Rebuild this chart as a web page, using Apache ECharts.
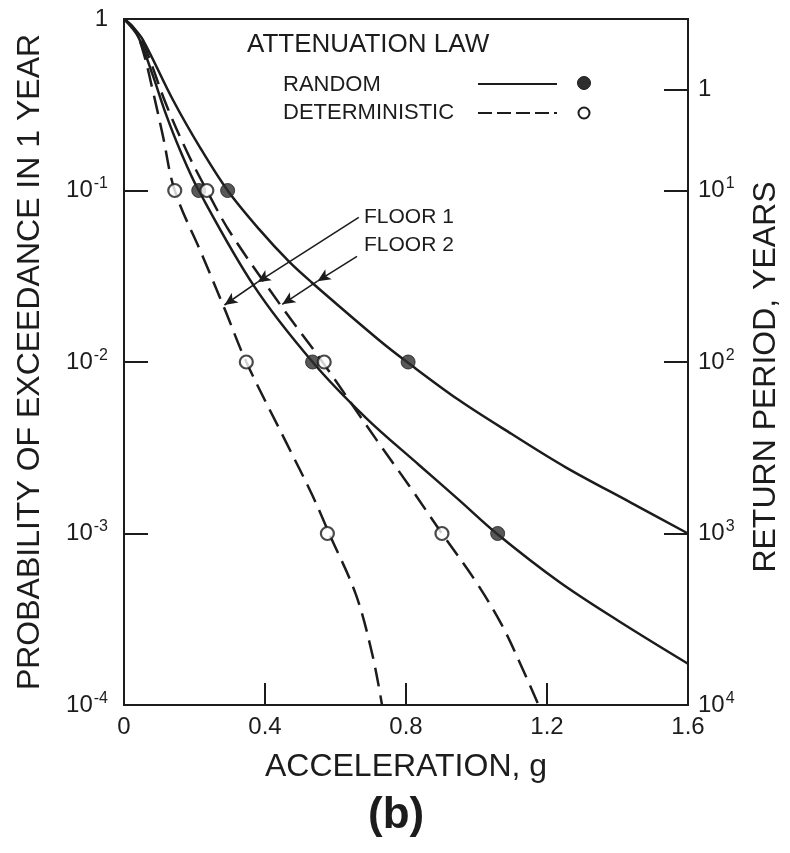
<!DOCTYPE html>
<html>
<head>
<meta charset="utf-8">
<script src="https://cdn.jsdelivr.net/npm/echarts@6.0.0/dist/echarts.min.js"></script>
<style>
  html, body { margin: 0; padding: 0; background: #ffffff; }
  #chart { width: 790px; height: 853px; }
</style>
</head>
<body>
<div id="chart"></div>
<script>
// ---------- DATA ----------
// Floor 1, random attenuation law (solid)
const floor1RandomG = [0, 0.04, 0.08, 0.12, 0.16, 0.212, 0.37, 0.535, 0.687, 0.837, 0.95, 1.057, 1.233, 1.402, 1.6];
const floor1RandomP = [1, 0.79, 0.48, 0.275, 0.17, 0.1, 0.0275, 0.01, 0.00471, 0.00251, 0.00157, 0.001, 0.000525, 0.00031, 0.000174];
// Floor 2, random attenuation law (solid)
const floor2RandomG = [0, 0.025, 0.054, 0.139, 0.215, 0.294, 0.385, 0.469, 0.531, 0.724, 0.803, 0.95, 1.10, 1.252, 1.439, 1.6];
const floor2RandomP = [1, 0.9, 0.754, 0.337, 0.179, 0.1, 0.0589, 0.0383, 0.0293, 0.0134, 0.01, 0.006, 0.0038, 0.00244, 0.00151, 0.001];
// Floor 1, deterministic attenuation law (dashed)
const floor1DetG = [0, 0.03, 0.054, 0.082, 0.11, 0.144, 0.224, 0.285, 0.347, 0.46, 0.535, 0.582, 0.658, 0.705, 0.732];
const floor1DetP = [1, 0.87, 0.65, 0.38, 0.21, 0.1, 0.041, 0.0205, 0.01, 0.0034, 0.00166, 0.001, 0.00044, 0.000195, 0.0001];
// Floor 2, deterministic attenuation law (dashed)
const floor2DetG = [0, 0.03, 0.06, 0.12, 0.18, 0.235, 0.30, 0.441, 0.563, 0.715, 0.809, 0.902, 0.998, 1.071, 1.12, 1.176];
const floor2DetP = [1, 0.87, 0.68, 0.316, 0.166, 0.1, 0.0575, 0.0219, 0.01, 0.00355, 0.0019, 0.001, 0.000525, 0.000295, 0.000182, 0.0001];

// Plotted points
const randomPtsG = [0.212, 0.294, 0.535, 0.806, 1.06];
const randomPtsP = [0.1, 0.1, 0.01, 0.01, 0.001];
const detPtsG = [0.144, 0.235, 0.347, 0.568, 0.577, 0.902];
const detPtsP = [0.1, 0.1, 0.01, 0.01, 0.001, 0.001];

// Annotation arrows (data coordinates: acceleration, probability)
const floor1Arrow = [[0.666, 0.0697], [0.379, 0.0292], [0.285, 0.0215]];
const floor2Arrow = [[0.661, 0.0413], [0.549, 0.0296], [0.449, 0.0217]];

// Tick labels
const xTickLabels = ['0', '0.4', '0.8', '1.2', '1.6'];
const leftTickLabels = ['10^-4', '10^-3', '10^-2', '10^-1', '1'];
const rightTickPositions = [0.41, 1, 2, 3, 4];
const rightTickLabels = ['1', '10^1', '10^2', '10^3', '10^4'];

// ---------- CHART ----------
const FONT = "'Liberation Sans', Arial, 'DejaVu Sans', sans-serif";
const INK = '#1c1c1c';

function zip(g, p) { return g.map((v, i) => [v, p[i]]); }
function richLabel(s) {
  const parts = s.split('^');
  if (parts.length === 1) return '{b|' + parts[0] + '}';
  return '{b|' + parts[0] + '}{s|' + parts[1] + '}';
}
const richStyles = {
  b: { fontSize: 24, fontFamily: FONT, color: INK },
  s: { fontSize: 16, fontFamily: FONT, color: INK, padding: [0, 0, 13, 1] }
};

function arrowSegments(a) {
  return [
    [{ coord: a[0], symbol: 'none' }, { coord: a[1], symbol: 'arrow' }],
    [{ coord: a[1], symbol: 'none' }, { coord: a[2], symbol: 'arrow' }]
  ];
}

const lineBase = {
  type: 'line', smooth: 0.35, showSymbol: false, symbol: 'none',
  silent: true, z: 3
};

const chart = echarts.init(document.getElementById('chart'), null, { renderer: 'canvas' });
chart.setOption({
  animation: false,
  backgroundColor: '#ffffff',
  grid: {
    left: 124, top: 19, width: 567, height: 686, containLabel: false,
    show: true, borderColor: INK, borderWidth: 2, backgroundColor: 'transparent'
  },
  xAxis: {
    type: 'value', min: 0, max: 1.6, interval: 0.4,
    axisLine: { show: true, onZero: false, lineStyle: { color: INK, width: 2 } },
    axisTick: { show: true, inside: true, length: 22, lineStyle: { color: INK, width: 2 } },
    axisLabel: {
      margin: 10, fontSize: 24, fontFamily: FONT, color: INK,
      formatter: (v) => xTickLabels[Math.round(v / 0.4)]
    },
    splitLine: { show: false },
    name: 'ACCELERATION, g', nameLocation: 'middle', nameGap: 46,
    nameTextStyle: { fontSize: 32, fontFamily: FONT, color: INK }
  },
  yAxis: [{
    type: 'log', logBase: 10, min: 0.0001, max: 1,
    axisLine: { show: true, onZero: false, lineStyle: { color: INK, width: 2 } },
    axisTick: { show: true, inside: true, length: 24, lineStyle: { color: INK, width: 2 } },
    minorTick: { show: false },
    axisLabel: {
      margin: 16, color: INK,
      formatter: (v) => richLabel(leftTickLabels[Math.round(Math.log10(v)) + 4]),
      rich: richStyles
    },
    splitLine: { show: false },
    name: 'PROBABILITY OF EXCEEDANCE IN 1 YEAR', nameLocation: 'middle', nameGap: 78, nameRotate: 90,
    nameTextStyle: { fontSize: 32, fontFamily: FONT, color: INK }
  }, {
    type: 'value', min: 0, max: 4, inverse: true, position: 'right',
    axisLine: { show: true, onZero: false, lineStyle: { color: INK, width: 2 } },
    axisTick: { show: true, inside: true, length: 24, customValues: rightTickPositions, lineStyle: { color: INK, width: 2 } },
    axisLabel: {
      margin: 10, color: INK, customValues: rightTickPositions,
      formatter: (v) => {
        let k = 0, best = 1e9;
        rightTickPositions.forEach((p, i) => { if (Math.abs(p - v) < best) { best = Math.abs(p - v); k = i; } });
        return richLabel(rightTickLabels[k]);
      },
      rich: richStyles
    },
    splitLine: { show: false },
    name: 'RETURN PERIOD, YEARS', nameLocation: 'middle', nameGap: 62, nameRotate: 90,
    nameTextStyle: { fontSize: 32, fontFamily: FONT, color: INK, padding: [0, 30, 0, 0] }
  }],
  series: [
    Object.assign({}, lineBase, {
      name: 'Floor 2 random', data: zip(floor2RandomG, floor2RandomP),
      lineStyle: { color: INK, width: 2.5, type: 'solid' },
      markLine: {
        silent: true, symbolSize: [9, 13], label: { show: false },
        lineStyle: { color: INK, width: 1.6, type: 'solid' },
        emphasis: { disabled: true },
        data: arrowSegments(floor1Arrow).concat(arrowSegments(floor2Arrow))
      }
    }),
    Object.assign({}, lineBase, {
      name: 'Floor 1 random', data: zip(floor1RandomG, floor1RandomP),
      lineStyle: { color: INK, width: 2.5, type: 'solid' }
    }),
    Object.assign({}, lineBase, {
      name: 'Floor 1 deterministic', data: zip(floor1DetG, floor1DetP),
      lineStyle: { color: INK, width: 2.5, type: [19, 9] }
    }),
    Object.assign({}, lineBase, {
      name: 'Floor 2 deterministic', data: zip(floor2DetG, floor2DetP),
      lineStyle: { color: INK, width: 2.5, type: [19, 9] }
    }),
    {
      type: 'scatter', name: 'Random', data: zip(randomPtsG, randomPtsP),
      symbol: 'circle', symbolSize: 14, silent: true, z: 5,
      itemStyle: { color: '#2e2e2e', borderColor: INK, borderWidth: 1 }
    },
    {
      type: 'scatter', name: 'Deterministic', data: zip(detPtsG, detPtsP),
      symbol: 'circle', symbolSize: 13, silent: true, z: 5,
      itemStyle: { color: '#ffffff', borderColor: INK, borderWidth: 2.2 }
    }
  ],
  graphic: [
    { type: 'text', left: 247, top: 32, style: { text: 'ATTENUATION LAW', fontSize: 26, fontFamily: FONT, fill: INK } },
    { type: 'text', left: 283, top: 74, style: { text: 'RANDOM', fontSize: 22, fontFamily: FONT, fill: INK } },
    { type: 'text', left: 283, top: 102, style: { text: 'DETERMINISTIC', fontSize: 22, fontFamily: FONT, fill: INK } },
    { type: 'line', shape: { x1: 478, y1: 84, x2: 557, y2: 84 }, style: { stroke: INK, lineWidth: 2 } },
    { type: 'line', shape: { x1: 478, y1: 113, x2: 557, y2: 113 }, style: { stroke: INK, lineWidth: 2, lineDash: [14, 5] } },
    { type: 'circle', shape: { cx: 584, cy: 83, r: 6.5 }, style: { fill: '#2e2e2e', stroke: INK, lineWidth: 1 } },
    { type: 'circle', shape: { cx: 584, cy: 113, r: 5.5 }, style: { fill: '#ffffff', stroke: INK, lineWidth: 2 } },
    { type: 'text', left: 364, top: 207, style: { text: 'FLOOR 1', fontSize: 21, fontFamily: FONT, fill: INK } },
    { type: 'text', left: 364, top: 235, style: { text: 'FLOOR 2', fontSize: 21, fontFamily: FONT, fill: INK } },
    { type: 'text', left: 368, top: 794, style: { text: '(b)', fontSize: 44, fontWeight: 'bold', fontFamily: FONT, fill: INK } }
  ]
});
</script>
</body>
</html>
